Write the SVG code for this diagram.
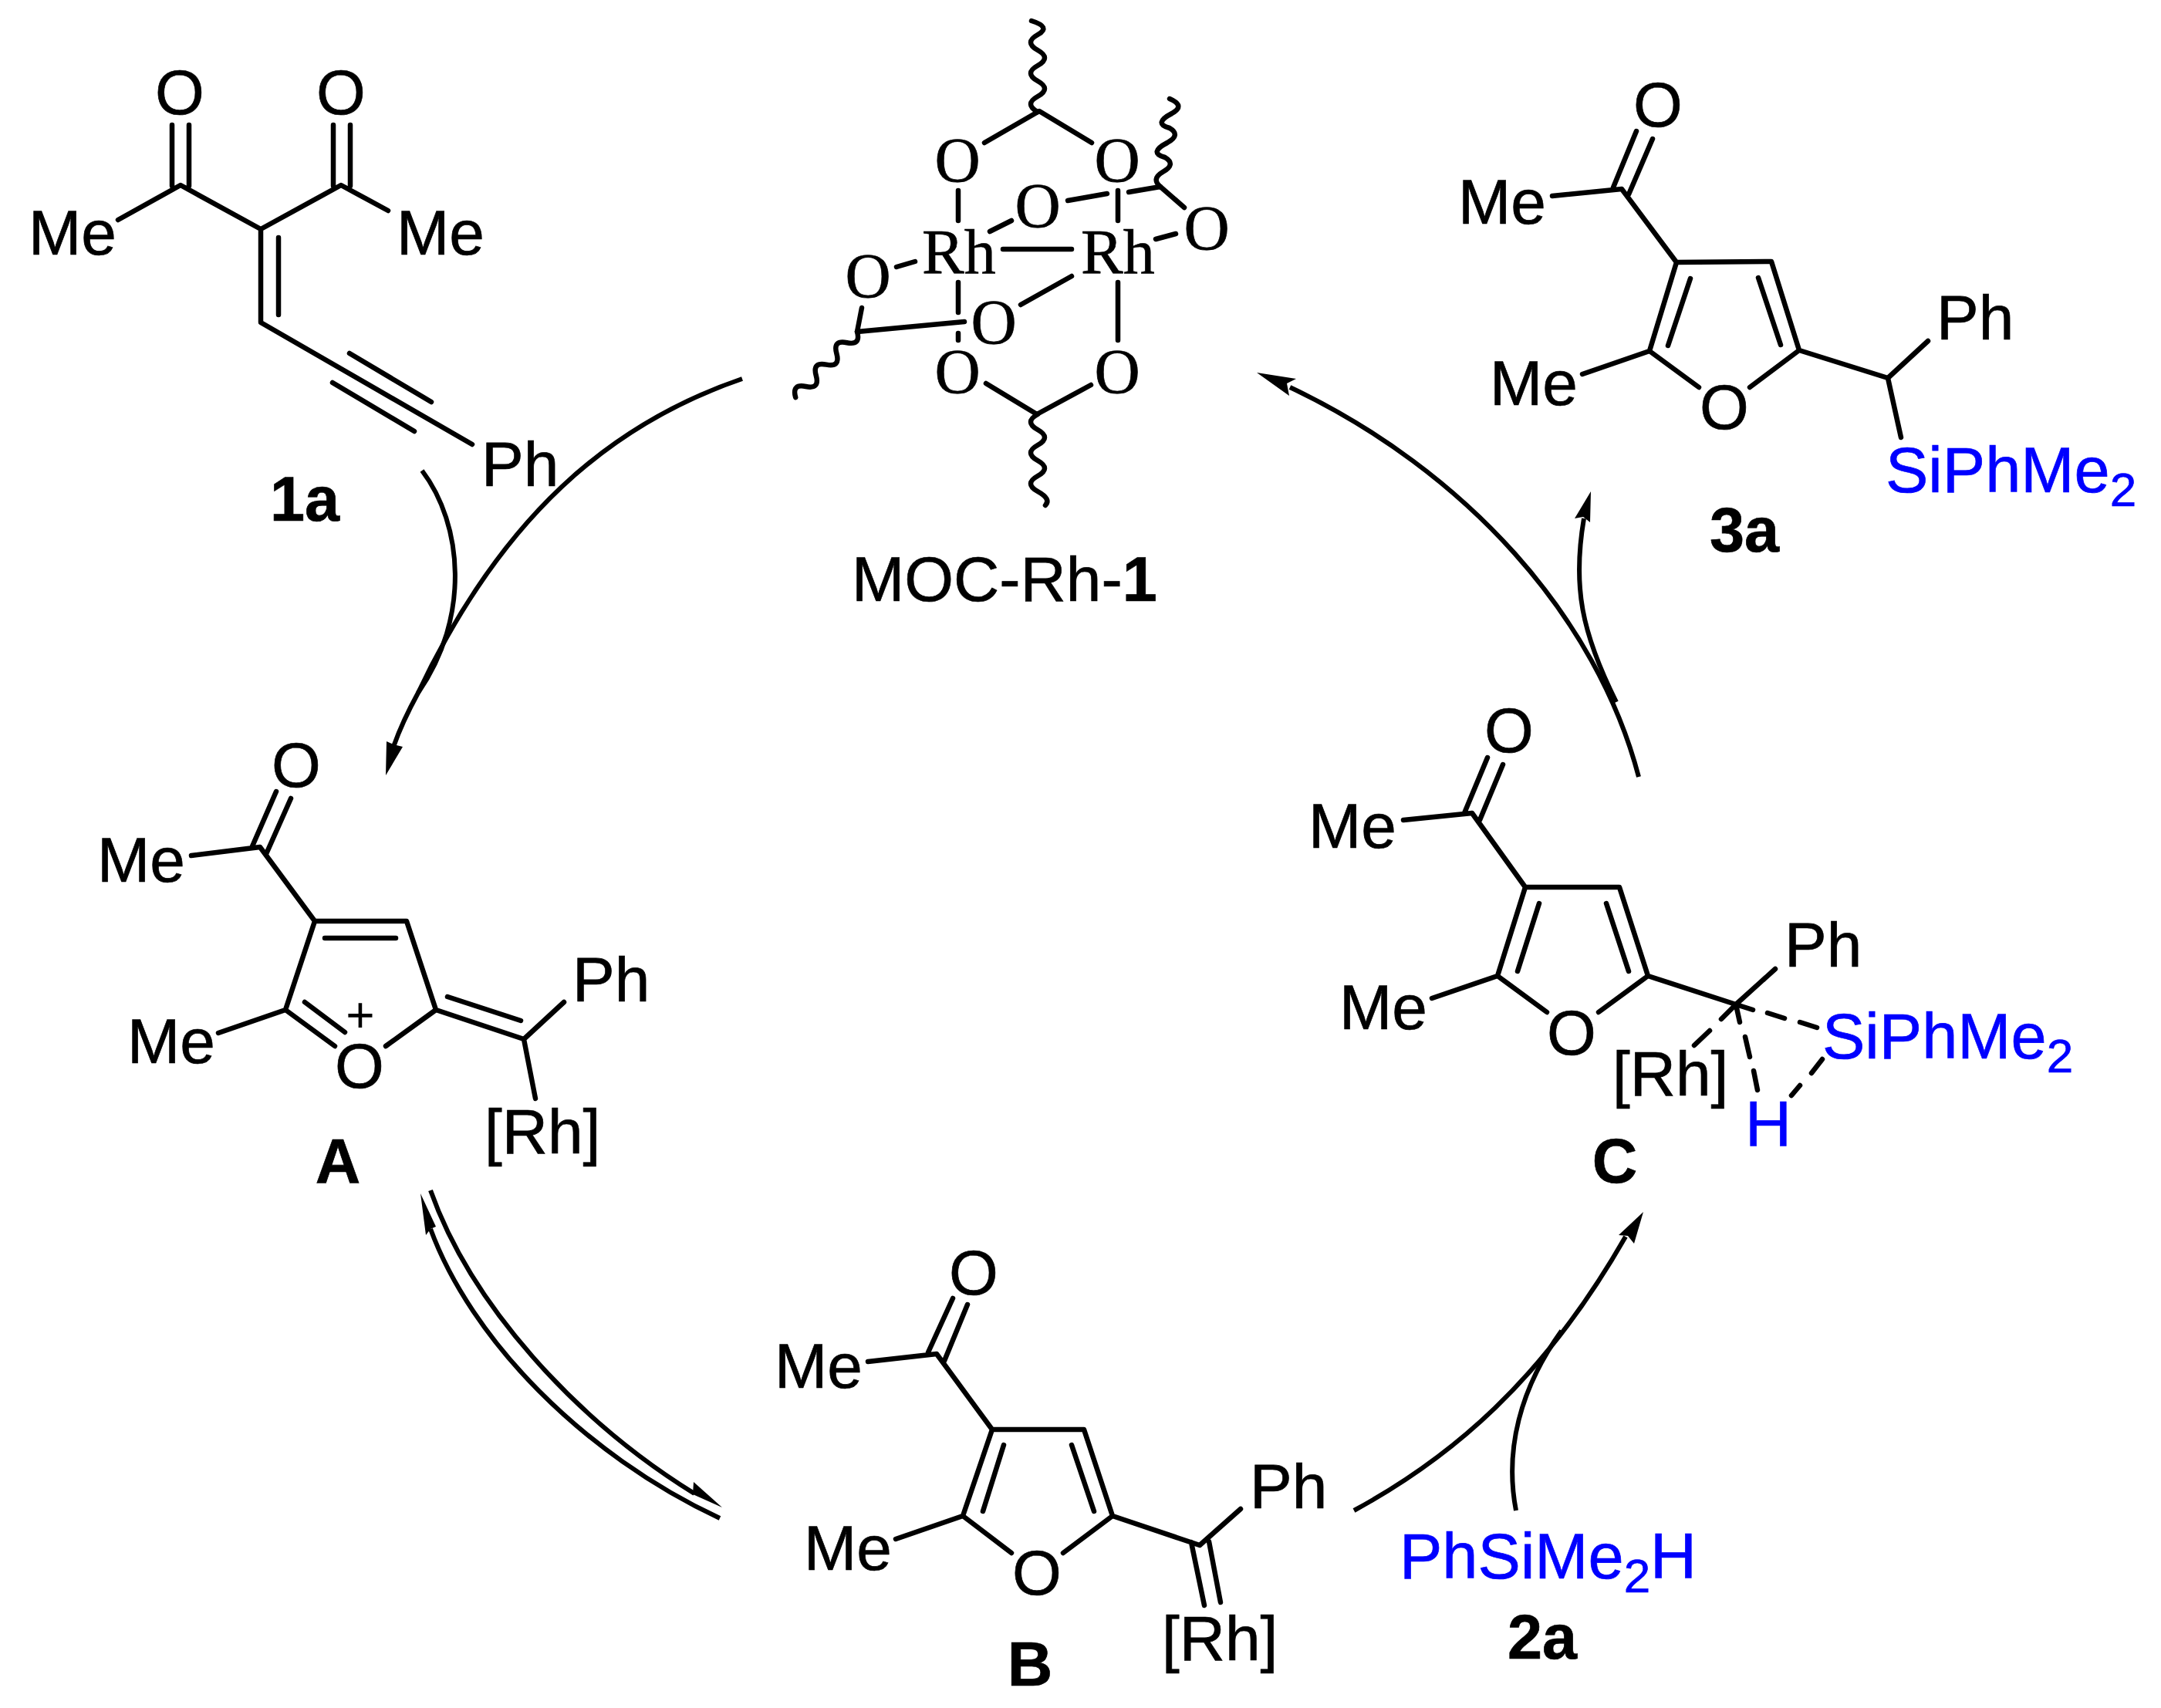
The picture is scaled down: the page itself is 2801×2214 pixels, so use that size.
<svg xmlns="http://www.w3.org/2000/svg" width="2801" height="2214" viewBox="0 0 2801 2214">
<style>
.b{fill:none;stroke:#000;stroke-width:6.5;stroke-linecap:round;stroke-linejoin:round}
.t{font-family:"Liberation Sans",Arial,sans-serif;font-size:82px;fill:#000;stroke:#000;stroke-width:.7}
.m{text-anchor:middle}
.bold{font-weight:bold;font-size:81px}
.blue{fill:#0000ff;stroke:#0000ff;font-size:83px}
.sub{font-size:62px}
.s{font-family:"Liberation Serif","Times New Roman",serif;font-size:82px;fill:#000;stroke:#000;stroke-width:.7}
.a{fill:none;stroke:#000;stroke-width:6;stroke-linecap:butt}
.h{fill:#000;stroke:none}
</style>
<rect width="2801" height="2214" fill="#fff"/>
<g id="connectors">
<path class="a" d="M962,491C790,550 650,670 542,898"/>
<path class="a" d="M547,610C600,680 610,800 542,898C530,920 518,945 510,968"/>
<polygon class="h" points="500,1005 501,961 510,965 522,968"/>
<path class="a" d="M558,1543C610,1690 745,1840 900,1936"/>
<polygon class="h" points="936,1954 899,1921 898,1937"/>
<path class="a" d="M933,1968C755,1885 610,1735 558,1593"/>
<polygon class="h" points="545,1547 552,1601 558,1593 565,1590"/>
<path class="a" d="M1755,1958C1880,1890 2000,1790 2107,1603"/>
<polygon class="h" points="2130,1571 2098,1601 2110,1602 2118,1612"/>
<path class="a" d="M1965,1958C1950,1880 1970,1800 2024,1725"/>
<path class="a" d="M2124,1007C2070,800 1900,610 1672,502"/>
<polygon class="h" points="1629,483 1671,513 1668,497 1680,491"/>
<path class="a" d="M2095,910C2050,820 2038,760 2053,672"/>
<polygon class="h" points="2062,637 2041,672 2052,670 2061,677"/>
</g>
<g id="node-1a">
<path class="b" d="M223,162V241M245,162V241M153,285L234,240L338,297L442,240L503,273M338,297V418L612,576M361,308V408M453,458L559,521M431,496L537,559M432,162V241M454,162V241"/>
<text class="t m" x="233" y="148">O</text><text class="t m" x="442" y="148">O</text>
<text class="t" x="37" y="330">Me</text><text class="t" x="514" y="330">Me</text>
<text class="t" x="624" y="630">Ph</text>
<text class="t bold" x="350" y="675">1a</text>
</g>
<g id="node-moc">
<path class="b" d="M1276,185L1347,144L1415,185M1242,247V286M1449,247V286M1283,300L1311,286M1384,260L1435,251M1463,249L1504,242L1535,269M1498,310L1524,303M1300,323H1389M1389,358L1323,395M1242,366V405M1242,432V441M1449,366V441M1162,346L1186,339M1117,399L1111,430L1250,417M1278,497L1344,537L1414,499"/>
<path class="b" d="M1345,145q-18,-10,0,-20q18,-10,0,-20q-18,-10,0,-20q18,-10,0,-20q-18,-10,0,-20q18,-10,-8,-18"/>
<path class="b" d="M1345,537q-18,10,0,20q18,10,0,20q-18,10,0,20q18,10,0,20q-18,10,0,20q18,10,10,18"/>
<path class="b" d="M1504,242q-12,-10,3,-19q18,-10,3,-19q-22,-6,3,-19q18,-10,3,-19q-22,-6,3,-19q18,-10,-3,-19"/>
<path class="b" d="M1111,430q5,18,-13.300,14.200q-18.400,-3.900,-13.300,14.200q5,18,-13.300,14.200q-18.400,-3.900,-13.300,14.200q5,18,-13.300,14.200q-18.400,-3.900,-13.300,14.200"/>
<text class="s m" x="1241" y="235">O</text><text class="s m" x="1448" y="235">O</text>
<text class="s m" x="1345" y="294">O</text><text class="s m" x="1564" y="323">O</text>
<text class="s m" x="1125" y="385">O</text><text class="s m" x="1288" y="445">O</text>
<text class="s m" x="1241" y="509">O</text><text class="s m" x="1448" y="509">O</text>
<text class="s" x="1195" y="354">Rh</text><text class="s" x="1401" y="354">Rh</text>
<text class="t" x="1104" y="779">MOC-Rh-<tspan class="bold">1</tspan></text>
</g>
<g id="node-3a">
<path class="b" d="M2121,170L2091,243M2142,180L2111,252M2012,254L2102,245L2173,340L2296,339L2332,454L2268,502M2173,340L2138,455L2202,502M2191,361L2162,448M2279,360L2308,447M2138,455L2051,485M2332,454L2447,490L2499,442M2447,490L2464,567"/>
<text class="t m" x="2149" y="164">O</text><text class="t" x="1890" y="290">Me</text><text class="t" x="1931" y="525">Me</text>
<text class="t m" x="2235" y="556">O</text><text class="t" x="2510" y="440">Ph</text>
<text class="t blue" x="2444" y="638">SiPhMe<tspan class="sub" dy="18">2</tspan></text>
<text class="t bold" x="2216" y="715">3a</text>
</g>
<g id="node-A">
<path class="b" d="M358,1026L327,1097M377,1035L345,1107M248,1109L337,1098L408,1194H527L565,1309L500,1356M408,1194L370,1309L434,1356M421,1216H513M395,1299L447,1338M370,1309L283,1339M565,1309L679,1347L731,1299M580,1292L675,1323M679,1347L694,1424"/>
<text class="t m" x="384" y="1020">O</text><text class="t" x="126" y="1143">Me</text><text class="t" x="165" y="1378">Me</text>
<text class="t m" x="466" y="1410">O</text><text class="t m" style="font-size:64px;stroke-width:0" x="467" y="1338">+</text>
<text class="t" x="742" y="1298">Ph</text><text class="t" x="628" y="1495">[Rh]</text>
<text class="t bold m" x="438" y="1533">A</text>
</g>
<g id="node-B">
<path class="b" d="M1235,1683L1203,1753M1254,1691L1224,1764M1125,1765L1214,1755L1286,1853H1405L1442,1965L1378,2013M1286,1853L1248,1965L1311,2013M1301,1873L1274,1959M1389,1873L1418,1959M1248,1965L1161,1995M1442,1965L1555,2003L1608,1956M1544,1999L1561,2081M1567,1998L1582,2077"/>
<text class="t m" x="1262" y="1678">O</text><text class="t" x="1004" y="1799">Me</text><text class="t" x="1042" y="2035">Me</text>
<text class="t m" x="1344" y="2067">O</text><text class="t" x="1620" y="1955">Ph</text><text class="t" x="1506" y="2152">[Rh]</text>
<text class="t bold m" x="1335" y="2185">B</text>
</g>
<g id="node-C">
<path class="b" d="M1928,982L1898,1054M1948,991L1918,1063M1819,1063L1908,1054L1977,1150H2099L2136,1265L2072,1312M1977,1150L1941,1265L2005,1312M1995,1171L1967,1259M2082,1171L2111,1259M1941,1265L1856,1294M2136,1265L2250,1302L2301,1256M2250,1302L2231,1321M2216,1336L2196,1355M2250,1302L2272,1309M2291,1313L2313,1320M2333,1325L2355,1332M2250,1302L2255,1325M2262,1344L2268,1370M2273,1388L2278,1413M2322,1420L2333,1407M2348,1391L2362,1373"/>
<text class="t m" x="1956" y="975">O</text><text class="t" x="1696" y="1099">Me</text><text class="t" x="1736" y="1334">Me</text>
<text class="t m" x="2037" y="1367">O</text><text class="t" x="2313" y="1253">Ph</text><text class="t" x="2090" y="1420">[Rh]</text>
<text class="t blue" x="2362" y="1372">SiPhMe<tspan class="sub" dy="18">2</tspan></text>
<text class="t blue" x="2262" y="1486">H</text>
<text class="t bold m" x="2093" y="1533">C</text>
</g>
<g id="node-2a">
<text class="t blue" x="1814" y="2046">PhSiMe<tspan class="sub" dy="18">2</tspan><tspan dy="-18">H</tspan></text>
<text class="t bold m" x="1999" y="2150">2a</text>
</g>
</svg>
